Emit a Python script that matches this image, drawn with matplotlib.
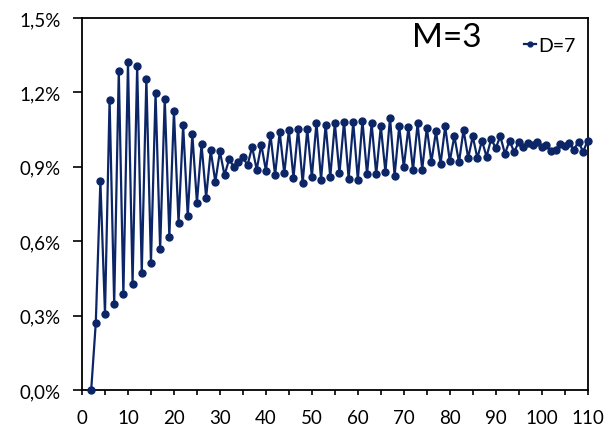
import matplotlib
matplotlib.use("Agg")
import matplotlib.pyplot as plt
from matplotlib.ticker import FuncFormatter, MultipleLocator

plt.rcParams['font.family'] = ['Lato', 'DejaVu Sans']

x_values = list(range(2, 111))
y_values = [
    0.000, 0.271, 0.842, 0.308, 1.170, 0.346, 1.288, 0.386, 1.322, 0.429,   # 2-11
    1.306, 0.473, 1.256, 0.513, 1.197, 0.567, 1.175, 0.618, 1.125, 0.673,   # 12-21
    1.068, 0.701, 1.032, 0.755, 0.991, 0.776, 0.966, 0.839, 0.962, 0.866,   # 22-31
    0.930, 0.901, 0.918, 0.940, 0.906, 0.980, 0.889, 0.989, 0.885, 1.028,   # 32-41
    0.867, 1.040, 0.873, 1.047, 0.855, 1.052, 0.834, 1.052, 0.859, 1.078,   # 42-51
    0.848, 1.070, 0.858, 1.076, 0.873, 1.082, 0.852, 1.080, 0.847, 1.086,   # 52-61
    0.870, 1.075, 0.870, 1.064, 0.879, 1.098, 0.864, 1.064, 0.898, 1.059,   # 62-71
    0.887, 1.075, 0.889, 1.057, 0.920, 1.043, 0.912, 1.063, 0.923, 1.024,   # 72-81
    0.918, 1.049, 0.935, 1.023, 0.935, 1.005, 0.941, 1.012, 0.976, 1.023,   # 82-91
    0.952, 1.005, 0.960, 1.000, 0.978, 0.994, 0.986, 1.000, 0.978, 0.989,   # 92-101
    0.962, 0.969, 0.992, 0.984, 0.996, 0.969, 1.002, 0.960, 1.006,          # 102-110
]
series_label = "D=7"
title_text = "M=3"
color = "#0B2566"

fig = plt.figure(figsize=(6.04, 4.27), dpi=100)
ax = fig.add_axes([82/604, 1-391/427, (587.7-82)/604, (391-19)/427])
ax.plot(x_values, [v/100 for v in y_values], color=color, lw=1.6,
        marker='o', markersize=5, label=series_label, clip_on=False, zorder=3)
ax.set_xlim(0, 110)
ax.set_ylim(0, 0.015)
ax.xaxis.set_major_locator(MultipleLocator(10))
ax.xaxis.set_minor_locator(MultipleLocator(5))
ax.yaxis.set_major_locator(MultipleLocator(0.003))
ax.yaxis.set_major_formatter(FuncFormatter(lambda v, p: f"{v*100:.1f}%".replace('.', ',')))
ax.tick_params(axis='y', which='major', direction='out', length=6.5, width=1.2, labelsize=13.5, pad=9, colors='black')
ax.tick_params(axis='x', which='both', direction='out', length=3.5, width=1.2, labelsize=13.5, pad=10)
for s in ax.spines.values():
    s.set_linewidth(1.3)
    s.set_color('black')
ax.text(0.652, 0.950, title_text, transform=ax.transAxes, fontsize=24, va='center', ha='left')
leg = ax.legend(loc='center right', bbox_to_anchor=(0.977, 0.927), frameon=False, fontsize=14,
                handlelength=0.6, handletextpad=0.15, borderaxespad=0, borderpad=0, markerscale=0.7)
fig.savefig("out.png", dpi=100)
